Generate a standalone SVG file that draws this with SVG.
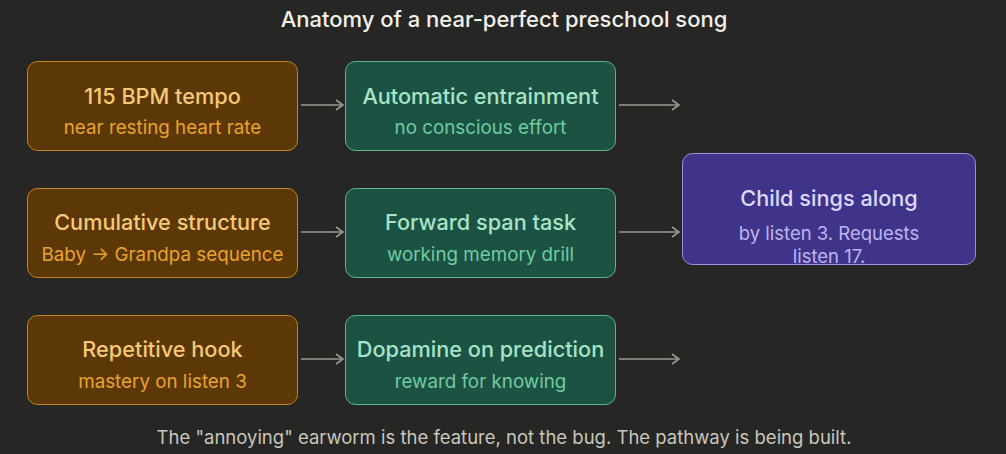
<svg xmlns="http://www.w3.org/2000/svg" width="1006" height="454" viewBox="0 0 1006 454">
<defs>
<marker id="arr" markerWidth="12" markerHeight="12" refX="10" refY="6" orient="auto" markerUnits="userSpaceOnUse">
<path d="M3,1 L10,6 L3,11" fill="none" stroke="#9a9890" stroke-width="1.6"/>
</marker>
<style>
text{font-family:Inter,"Noto Sans",sans-serif;text-anchor:middle}
.ttl{font-size:22px;font-weight:500;fill:#f2f0ea}
.ft{font-size:18.5px;fill:#c9c7be}
.bb{fill:#5c3806;stroke:#c8861e;stroke-width:1}
.bt{font-size:21.7px;font-weight:500;fill:#f6c978}
.bs{font-size:18.8px;fill:#eba22e}
.gb{fill:#1c5244;stroke:#5fb892;stroke-width:1}
.gt{font-size:21.7px;font-weight:500;fill:#a6e4c6}
.gs{font-size:18.8px;fill:#6fcc9f}
.pb{fill:#3f3489;stroke:#9a90e0;stroke-width:1}
.pt{font-size:21.7px;font-weight:500;fill:#dcd8ff}
.ps{font-size:18.5px;fill:#bcb4f2}
.c{stroke:#9a9890;stroke-width:1.6;fill:none;marker-end:url(#arr)}
</style>
</defs>
<rect width="1006" height="454" fill="#262624"/>
<text class="ttl" x="504" y="27">Anatomy of a near-perfect preschool song</text>
<g id="connectors">
<line class="c" x1="301" y1="105" x2="343" y2="105"/>
<line class="c" x1="619" y1="105" x2="679" y2="105"/>
<line class="c" x1="301" y1="232" x2="343" y2="232"/>
<line class="c" x1="619" y1="232" x2="679" y2="232"/>
<line class="c" x1="301" y1="359" x2="343" y2="359"/>
<line class="c" x1="619" y1="359" x2="679" y2="359"/>
</g>
<g id="tempo">
<rect class="bb" x="27.5" y="61.5" width="270" height="89" rx="10"/>
<text class="bt" x="162.5" y="104">115 BPM tempo</text>
<text class="bs" x="162.5" y="134">near resting heart rate</text>
</g>
<g id="entrainment">
<rect class="gb" x="345.5" y="61.5" width="270" height="89" rx="10"/>
<text class="gt" x="480.5" y="104">Automatic entrainment</text>
<text class="gs" x="480.5" y="134">no conscious effort</text>
</g>
<g id="cumulative">
<rect class="bb" x="27.5" y="188.5" width="270" height="89" rx="10"/>
<text class="bt" x="162.5" y="230">Cumulative structure</text>
<text class="bs" x="162.5" y="261">Baby → Grandpa sequence</text>
</g>
<g id="forward">
<rect class="gb" x="345.5" y="188.5" width="270" height="89" rx="10"/>
<text class="gt" x="480.5" y="230">Forward span task</text>
<text class="gs" x="480.5" y="261">working memory drill</text>
</g>
<g id="hook">
<rect class="bb" x="27.5" y="315.5" width="270" height="89" rx="10"/>
<text class="bt" x="162.5" y="357">Repetitive hook</text>
<text class="bs" x="162.5" y="388">mastery on listen 3</text>
</g>
<g id="dopamine">
<rect class="gb" x="345.5" y="315.5" width="270" height="89" rx="10"/>
<text class="gt" x="480.5" y="357">Dopamine on prediction</text>
<text class="gs" x="480.5" y="388">reward for knowing</text>
</g>
<g id="child">
<rect class="pb" x="682.5" y="153.5" width="293" height="111" rx="10"/>
<text class="pt" x="829" y="206">Child sings along</text>
<text class="ps" x="829" y="240">by listen 3. Requests</text>
<text class="ps" x="829" y="263">listen 17.</text>
</g>
<text class="ft" x="504" y="444">The "annoying" earworm is the feature, not the bug. The pathway is being built.</text>
</svg>
